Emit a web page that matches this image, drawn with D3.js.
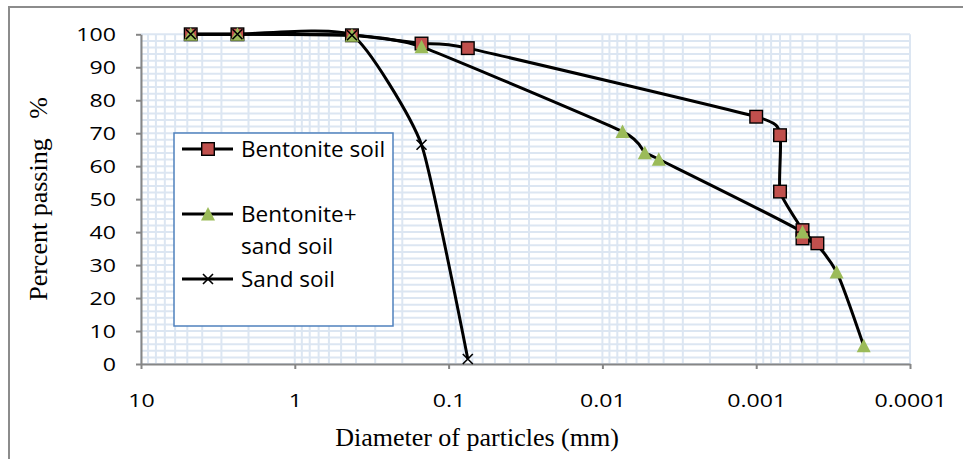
<!DOCTYPE html>
<html>
<head>
<meta charset="utf-8">
<script src="https://cdn.jsdelivr.net/npm/d3@7"></script>
<style>
  body { margin: 0; background: #fff; }
  svg { display: block; }
</style>
</head>
<body>
<svg id="chart" width="963" height="459"></svg>
<script>
// particle diameter (mm) and percent passing
var bentoniteSize = [4.75, 2.36, 0.425, 0.15, 0.075, 0.001, 0.0007, 0.0007, 0.0005, 0.0005, 0.0004];
var bentonitePass = [100, 100, 99.7, 97.2, 95.8, 75, 69.4, 52.3, 40.6, 38.1, 36.6];
var mixSize = [4.75, 2.36, 0.425, 0.15, 0.0074, 0.0053, 0.0043, 0.0005, 0.0003, 0.0002];
var mixPass = [100, 100, 99.7, 96.2, 70.5, 64.1, 62.1, 40, 27.9, 5.5];
var sandSize = [4.75, 2.36, 0.425, 0.15, 0.075];
var sandPass = [100, 100, 99.7, 66.5, 1.5];

var seriesNames = ["Bentonite soil", "Bentonite+ sand soil", "Sand soil"];
var xTicks = [10, 1, 0.1, 0.01, 0.001, 0.0001];
var xTickLabels = ["10", "1", "0.1", "0.01", "0.001", "0.0001"];
var yTicks = [0, 10, 20, 30, 40, 50, 60, 70, 80, 90, 100];

var svg = d3.select("#chart");
var sx = 1.25; // tick labels are drawn wide in the original

var x = d3.scaleLog().domain([10, 0.0001]).range([141, 910]);
var y = d3.scaleLinear().domain([0, 100]).range([364, 34.3]);

function zip(size, pass) {
  return size.map(function(d, i) { return {d: d, p: pass[i]}; });
}
var series = [
  {name: seriesNames[0], pts: zip(bentoniteSize, bentonitePass), marker: "square"},
  {name: seriesNames[1], pts: zip(mixSize, mixPass), marker: "triangle"},
  {name: seriesNames[2], pts: zip(sandSize, sandPass), marker: "cross"}
];

// outer frame
svg.append("path")
  .attr("d", "M9,470 V7 H970")
  .attr("fill", "none")
  .attr("stroke", "#8c8c8c")
  .attr("stroke-width", 2);

// gridlines
var grid = svg.append("g").attr("stroke", "#dce6f2").attr("stroke-width", 2);
grid.selectAll(".h").data(d3.range(0, 101, 2)).enter().append("line")
  .attr("x1", x(10)).attr("x2", x(0.0001))
  .attr("y1", function(d) { return y(d); })
  .attr("y2", function(d) { return y(d); });

var vlines = [];
[1, 0.1, 0.01, 0.001, 0.0001].forEach(function(dec) {
  for (var k = 1; k <= 9; k++) vlines.push(k * dec);
});
vlines.push(10);
grid.selectAll(".v").data(vlines).enter().append("line")
  .attr("x1", function(d) { return x(d); })
  .attr("x2", function(d) { return x(d); })
  .attr("y1", y(0)).attr("y2", y(100));

// axes
var yAxis = svg.append("g")
  .attr("transform", "translate(" + x(10) + ",0)")
  .call(d3.axisLeft(y).tickValues(yTicks).tickSize(5).tickSizeOuter(0));
var xAxis = svg.append("g")
  .attr("transform", "translate(0," + y(0) + ")")
  .call(d3.axisBottom(x).tickValues(xTicks).tickSize(5).tickSizeOuter(0)
    .tickFormat(function(d, i) { return xTickLabels[i]; }));

[yAxis, xAxis].forEach(function(a) {
  a.select(".domain").attr("stroke", "#868686").attr("stroke-width", 2);
  a.selectAll(".tick line").attr("stroke", "#868686").attr("stroke-width", 2);
  a.selectAll("text")
    .attr("fill", "#000")
    .style("font-family", "'Open Sans', sans-serif")
    .style("font-size", "18.5px")
    .attr("transform", "scale(" + sx + ",1)");
});
yAxis.selectAll("text").attr("x", -25 / sx).attr("dy", "0.36em");
xAxis.selectAll("text").attr("y", 36).attr("dy", "0.36em");

// axis titles
svg.append("text")
  .attr("transform", "translate(47,199) rotate(-90)")
  .attr("text-anchor", "middle")
  .style("font-family", "'Liberation Serif', serif")
  .style("font-size", "26px")
  .text("Percent passing\u00a0\u00a0\u00a0%");
svg.append("text")
  .attr("x", 477).attr("y", 446)
  .attr("text-anchor", "middle")
  .style("font-family", "'Liberation Serif', serif")
  .style("font-size", "26px")
  .text("Diameter of particles (mm)");

// smoothed curves
var line = d3.line()
  .x(function(d) { return x(d.d); })
  .y(function(d) { return y(d.p); })
  .curve(d3.curveCardinal.tension(0.5));

svg.append("g").selectAll("path").data(series).enter().append("path")
  .attr("d", function(s) { return line(s.pts); })
  .attr("fill", "none")
  .attr("stroke", "#000")
  .attr("stroke-width", 3);

function drawMarker(g, type) {
  if (type == "square") {
    g.append("rect").attr("x", -6.3).attr("y", -6.3).attr("width", 12.6).attr("height", 12.6)
      .attr("fill", "#c0504d").attr("stroke", "#000").attr("stroke-width", 1.4);
  } else if (type == "triangle") {
    g.append("path").attr("d", "M0,-7 L7,6.5 L-7,6.5 Z").attr("fill", "#9bbb59");
  } else {
    g.append("path").attr("d", "M-5,-5 L5,5 M-5,5 L5,-5")
      .attr("stroke", "#000").attr("stroke-width", 1.6);
  }
}

series.forEach(function(s) {
  svg.append("g").selectAll("g").data(s.pts).enter().append("g")
    .attr("transform", function(d) { return "translate(" + x(d.d) + "," + y(d.p) + ")"; })
    .each(function() { drawMarker(d3.select(this), s.marker); });
});

// legend
svg.append("rect")
  .attr("x", 174).attr("y", 133).attr("width", 219).attr("height", 193)
  .attr("fill", "#fff").attr("stroke", "#4f81bd").attr("stroke-width", 1.5);

var legendRows = [149, 214, 279];
var legendText = [["Bentonite soil"], ["Bentonite+", "sand soil"], ["Sand soil"]];
var legend = svg.selectAll(".legend").data(series).enter().append("g")
  .attr("class", "legend")
  .attr("transform", function(d, i) { return "translate(182," + legendRows[i] + ")"; });

legend.append("line")
  .attr("x1", 0).attr("x2", 51)
  .attr("stroke", "#000").attr("stroke-width", 3);
legend.append("g").attr("transform", "translate(26,0)")
  .each(function(s) { drawMarker(d3.select(this), s.marker); });
legend.append("text")
  .attr("x", 59)
  .style("font-family", "'Open Sans', sans-serif")
  .style("font-size", "22.5px")
  .each(function(d, i) {
    var t = d3.select(this);
    legendText[i].forEach(function(str, j) {
      t.append("tspan").attr("x", 59).attr("y", j * 32).attr("dy", "0.36em").text(str);
    });
  });
</script>
</body>
</html>
